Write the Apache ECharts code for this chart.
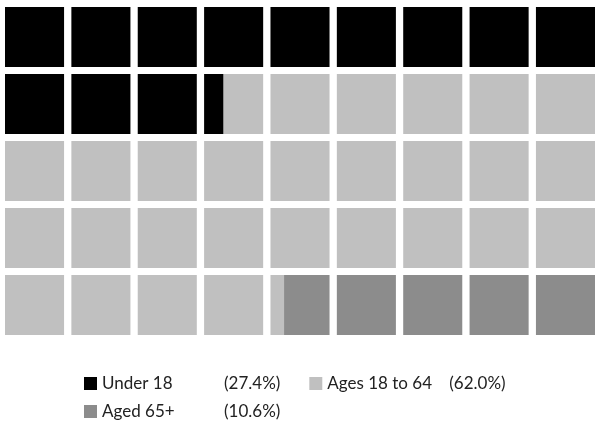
<!DOCTYPE html>
<html>
<head>
<meta charset="utf-8">
<title>Waffle</title>
<script src="https://cdn.jsdelivr.net/npm/echarts@6/dist/echarts.min.js"></script>
<style>
    html, body { margin: 0; padding: 0; background: #fff; }
    #main { width: 595px; height: 426px; }
</style>
</head>
<body>
<div id="main"></div>
<script>
    // 数据
    var categories = ['Under 18', 'Ages 18 to 64', 'Aged 65+'];
    var percents = [27.4, 62.0, 10.6];
    var colors = ['#000000', '#c0c0c0', '#8c8c8c'];
    var nCols = 9;
    var nRows = 5;

    // 把百分比切成格子 (每格 = 100/45 %)
    var total = nCols * nRows;
    var cells = categories.map(function () { return []; });
    var start = 0;
    for (var k = 0; k < percents.length; k++) {
        var end = start + percents[k] / 100 * total;
        for (var i = Math.floor(start); i < Math.ceil(end - 1e-9) && i < total; i++) {
            var f0 = Math.max(start - i, 0);
            var f1 = Math.min(end - i, 1);
            if (f1 - f0 > 1e-6) {
                cells[k].push([i % nCols, Math.floor(i / nCols), f0, f1]);
            }
        }
        start = end;
    }

    var myChart = echarts.init(document.getElementById('main'));

    var gapX = 7.3, gapY = 7;

    function renderCell(params, api) {
        var col = api.value(0), row = api.value(1);
        var p0 = api.coord([col, row]);
        var p1 = api.coord([col + 1, row + 1]);
        var w = p1[0] - p0[0] - gapX;
        var h = p1[1] - p0[1] - gapY;
        return {
            type: 'rect',
            shape: {
                x: p0[0] + api.value(2) * w,
                y: p0[1],
                width: (api.value(3) - api.value(2)) * w,
                height: h
            },
            style: { fill: api.visual('color') }
        };
    }

    function legendFmt(name) {
        var idx = categories.indexOf(name);
        return '{a|' + name + '}{b|(' + percents[idx].toFixed(1) + '%)}';
    }

    var legendText = {
        fontFamily: 'Lato',
        fontSize: 17,
        color: '#222',
        rich: {
            a: { width: 122, fontFamily: 'Lato', fontSize: 17, color: '#222' },
            b: { width: 60, fontFamily: 'Lato', fontSize: 17, color: '#222' }
        }
    };

    var option = {
        animation: false,
        color: colors,
        // 最后一列右边的空隙被画布裁掉
        grid: { left: 5, top: 7, right: 0, height: 335 },
        xAxis: { type: 'value', min: 0, max: nCols - 1 + 59 / 66.3, show: false },
        yAxis: { type: 'value', min: 0, max: nRows, inverse: true, show: false },
        legend: [
            {
                data: categories.slice(0, 2),
                left: 84, top: 375, padding: 0,
                itemWidth: 13, itemHeight: 13, itemGap: 29,
                icon: 'rect',
                formatter: legendFmt,
                textStyle: legendText
            },
            {
                data: categories.slice(2),
                left: 84, top: 403, padding: 0,
                itemWidth: 13, itemHeight: 13,
                icon: 'rect',
                formatter: legendFmt,
                textStyle: legendText
            }
        ],
        series: categories.map(function (name, k) {
            return {
                name: name,
                type: 'custom',
                renderItem: renderCell,
                itemStyle: { color: colors[k] },
                encode: { x: 0, y: 1 },
                data: cells[k]
            };
        })
    };

    myChart.setOption(option);
</script>
</body>
</html>
